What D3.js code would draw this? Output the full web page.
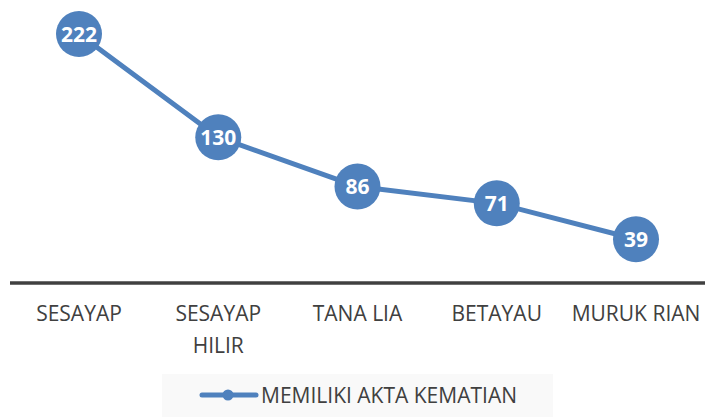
<!DOCTYPE html>
<html>
<head>
<meta charset="utf-8">
<script src="https://cdnjs.cloudflare.com/ajax/libs/d3/7.8.5/d3.min.js"></script>
<style>
body { margin: 0; background: #fff; }
svg text { font-family: "Open Sans", sans-serif; }
</style>
</head>
<body>
<svg id="chart" width="705" height="417"></svg>
<script>
var categories = ["SESAYAP", "SESAYAP\nHILIR", "TANA LIA", "BETAYAU", "MURUK RIAN"];
var values = [222, 130, 86, 71, 39];
var seriesName = "MEMILIKI AKTA KEMATIAN";

var svg = d3.select("#chart");
var blue = "#4f81bd";

var x = d3.scalePoint()
  .domain(categories)
  .range([79, 636]);

var y = d3.scaleLinear()
  .domain([0, 222])
  .range([283, 34]);

// line
var line = d3.line()
  .x(function(d, i) { return x(categories[i]); })
  .y(function(d) { return y(d); });

svg.append("path")
  .datum(values)
  .attr("d", line)
  .attr("fill", "none")
  .attr("stroke", blue)
  .attr("stroke-width", 5)
  .attr("stroke-linejoin", "round");

// axis line
svg.append("line")
  .attr("x1", 10).attr("x2", 705)
  .attr("y1", y(0)).attr("y2", y(0))
  .attr("stroke", "#404040")
  .attr("stroke-width", 3.5);

// markers with labels
var pts = svg.append("g").selectAll("g")
  .data(values)
  .enter().append("g")
  .attr("transform", function(d, i) { return "translate(" + x(categories[i]) + "," + y(d) + ")"; });

pts.append("circle")
  .attr("r", 23)
  .attr("fill", blue);

pts.append("text")
  .attr("text-anchor", "middle")
  .attr("dy", "0.36em")
  .attr("fill", "#fff")
  .style("font-weight", "bold")
  .style("font-size", "21px")
  .text(function(d) { return d; });

// category labels
var lab = svg.append("g").selectAll("text")
  .data(categories)
  .enter().append("text")
  .attr("x", function(d) { return x(d); })
  .attr("y", 321)
  .attr("text-anchor", "middle")
  .attr("fill", "#404040")
  .style("font-size", "21px");

lab.each(function(d) {
  var t = d3.select(this);
  d.split("\n").forEach(function(s, k) {
    t.append("tspan")
      .attr("x", x(d))
      .attr("dy", k == 0 ? 0 : 32)
      .text(s);
  });
});

// legend
var lg = svg.append("g");
lg.append("rect")
  .attr("x", 162).attr("y", 374)
  .attr("width", 391).attr("height", 43)
  .attr("fill", "#f9f9f9");
lg.append("line")
  .attr("x1", 202).attr("x2", 256)
  .attr("y1", 395).attr("y2", 395)
  .attr("stroke", blue)
  .attr("stroke-width", 5)
  .attr("stroke-linecap", "round");
lg.append("circle")
  .attr("cx", 228).attr("cy", 395)
  .attr("r", 5.5)
  .attr("fill", blue);
lg.append("text")
  .attr("x", 261).attr("y", 395)
  .attr("dy", "0.36em")
  .attr("fill", "#404040")
  .style("font-size", "21px")
  .text(seriesName);
</script>
</body>
</html>
